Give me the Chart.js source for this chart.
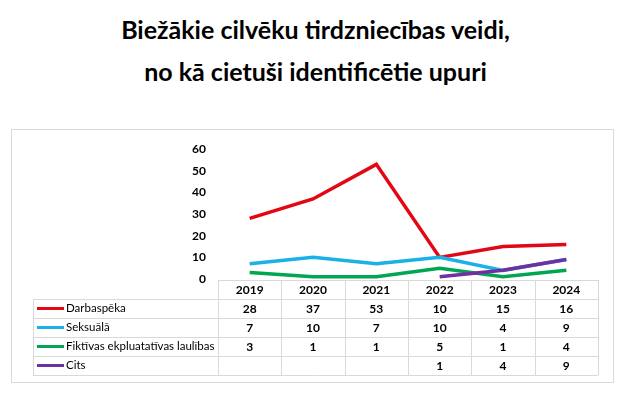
<!DOCTYPE html>
<html><head><meta charset="utf-8">
<script src="https://cdn.jsdelivr.net/npm/chart.js@4"></script>
<style>
html,body{margin:0;padding:0;background:#fff;width:631px;height:402px;overflow:hidden;font-family:Lato,"Open Sans",sans-serif}
#title{position:absolute;left:0;top:8px;width:631px;text-align:center;font-weight:bold;font-size:25px;line-height:42px;color:#000}
#box{position:absolute;left:11px;top:129px;width:603px;height:254px;box-sizing:border-box;border:1px solid #d9d9d9}
#c{position:absolute;left:0;top:0}
</style></head><body>
<div id="title">Biežākie cilvēku tirdzniecības veidi,<br>no kā cietuši identificētie upuri</div>
<div id="box"><canvas id="c" width="601" height="252"></canvas></div>
<script>
const years = ["2019","2020","2021","2022","2023","2024"];
const seriesNames = ["Darbaspēka","Seksuālā","Fiktīvas ekpluatatīvas laulības","Cits"];
const darbaspeka = [28,37,53,10,15,16];
const seksuala = [7,10,7,10,4,9];
const fiktivas = [3,1,1,5,1,4];
const cits = [null,null,null,1,4,9];
const yTicks = [0,10,20,30,40,50,60];
const colors = ["#e30613","#1ab0e8","#00a651","#7030a0"];
const seriesData = [darbaspeka,seksuala,fiktivas,cits];
const FONT = 'Lato, "Open Sans", sans-serif';

const tablePlugin = {
  id:'dataTable',
  afterDraw(chart){
    const ctx = chart.ctx, x = chart.scales.x, a = chart.chartArea;
    const rowH = 19, top = a.bottom + 1, leftX = 21;
    const n = years.length;
    const colW = (a.right - a.left)/n;
    ctx.save();
    ctx.strokeStyle = '#d9d9d9'; ctx.lineWidth = 1;
    ctx.beginPath();
    ctx.moveTo(a.left, top+0.5); ctx.lineTo(a.right, top+0.5);
    for(let r=1;r<=5;r++){
      const yy = Math.round(top + r*rowH)+0.5;
      ctx.moveTo(leftX, yy); ctx.lineTo(a.right, yy);
    }
    for(let i=0;i<=n;i++){
      const xx = Math.round(a.left + i*colW)+0.5;
      ctx.moveTo(xx, top); ctx.lineTo(xx, top+5*rowH);
    }
    ctx.moveTo(leftX+0.5, top+rowH); ctx.lineTo(leftX+0.5, top+5*rowH);
    ctx.stroke();
    ctx.fillStyle = '#000';
    ctx.textBaseline = 'middle'; ctx.textAlign = 'center';
    ctx.font = 'bold 12px ' + FONT;
    years.forEach((yv,i)=>{
      ctx.fillText(yv, x.getPixelForValue(i), top + rowH/2 + 1);
    });
    seriesData.forEach((arr,r)=>{
      const cy = top + (r+1)*rowH + rowH/2 + 1;
      ctx.font = 'bold 12px ' + FONT;
      ctx.textAlign = 'center';
      arr.forEach((v,i)=>{
        if(v!==null) ctx.fillText(String(v), x.getPixelForValue(i), cy);
      });
      ctx.strokeStyle = colors[r]; ctx.lineWidth = 3;
      ctx.beginPath(); ctx.moveTo(leftX+4, cy-1); ctx.lineTo(leftX+31, cy-1); ctx.stroke();
      ctx.textAlign = 'left';
      ctx.font = '11.5px ' + FONT;
      ctx.fillText(seriesNames[r], leftX+33, cy-1);
    });
    ctx.restore();
  }
};

new Chart(document.getElementById('c'), {
  type:'line',
  data:{
    labels: years,
    datasets: seriesData.map((d,i)=>({
      label: seriesNames[i], data: d, borderColor: colors[i], backgroundColor: colors[i],
      borderWidth: 3.5, pointRadius: 0, tension: 0, spanGaps: false, order: 4-i
    }))
  },
  options:{
    responsive:false, animation:false,
    layout:{padding:{left:0,right:15,top:13,bottom:103}},
    plugins:{legend:{display:false}, tooltip:{enabled:false}, title:{display:false}},
    scales:{
      x:{type:'category', offset:true, display:false},
      y:{min:0,max:60, afterFit(s){s.width=206;},
         afterBuildTicks(s){ s.ticks = yTicks.map(v=>({value:v})); },
         grid:{display:false, drawTicks:false}, border:{display:false},
         ticks:{padding:12, color:'#000', font:{family:FONT, size:12, weight:'bold'}}}
    }
  },
  plugins:[tablePlugin]
});
</script>
</body></html>
